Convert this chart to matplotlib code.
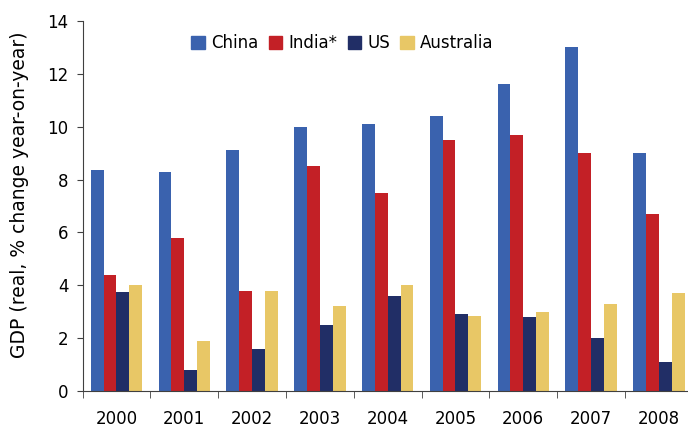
import numpy as np
import matplotlib
matplotlib.use("Agg")
import matplotlib.pyplot as plt
from matplotlib.patches import Patch

plt.rcParams['font.family'] = ['DejaVu Sans']

years = ['2000', '2001', '2002', '2003', '2004', '2005', '2006', '2007', '2008']
china = [8.35, 8.3, 9.1, 10.0, 10.1, 10.4, 11.6, 13.0, 9.0]
india = [4.4, 5.8, 3.8, 8.5, 7.5, 9.5, 9.7, 9.0, 6.7]
us = [3.75, 0.8, 1.6, 2.5, 3.6, 2.9, 2.8, 2.0, 1.1]
australia = [4.0, 1.9, 3.8, 3.2, 4.0, 2.85, 3.0, 3.3, 3.7]

names = ['China', 'India*', 'US', 'Australia']
colors = ['#3a62ae', '#c32026', '#212e66', '#e8c766']
series = [china, india, us, australia]

fig = plt.figure(figsize=(6.88, 4.28), dpi=100)
# the original is cut off at the right edge, so the axes run slightly past it
ax = fig.add_axes([0.12, 0.0864, 0.887, 0.8646])

x = np.arange(len(years))
w = 0.19
for k, (vals, c) in enumerate(zip(series, colors)):
    ax.bar(x + (k - 1.5) * w, vals, w, color=c, label=names[k], linewidth=0)

ax.set_xlim(-0.5, len(years) - 0.5)
ax.set_ylim(0, 14)
ax.set_yticks(range(0, 15, 2))
ax.set_xticks(x)
ax.set_xticklabels(years)
ax.set_xticks(np.arange(-0.5, len(years), 1.0), minor=True)
ax.tick_params(axis='x', which='major', length=0, pad=14, labelsize=12)
ax.tick_params(axis='x', which='minor', length=5, direction='out', color='#404040')
ax.tick_params(axis='y', length=4, direction='out', color='#404040', labelsize=12, pad=6)
for s in ['top', 'right']:
    ax.spines[s].set_visible(False)
for s in ['left', 'bottom']:
    ax.spines[s].set_color('#404040')
ax.set_ylabel('GDP (real, % change year-on-year)', fontsize=13.5)
ax.yaxis.set_label_coords(-0.087, 0.53)

handles = [Patch(color=c) for c in colors]
ax.legend(handles, names, loc='upper center', bbox_to_anchor=(0.426, 1.005), ncol=4,
          frameon=False, fontsize=12, handlelength=0.8, handleheight=0.8,
          handletextpad=0.4, columnspacing=0.6)

fig.savefig('out.png', dpi=100)
